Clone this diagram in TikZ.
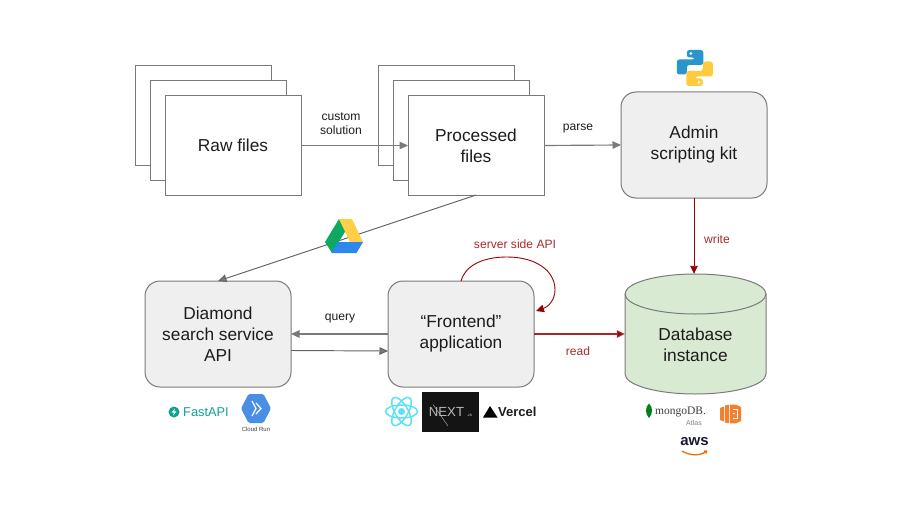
\documentclass[tikz,border=0pt]{standalone}
\usepackage{fontspec}
\setmainfont{Liberation Sans}
\newfontfamily\logoserif{Liberation Serif}
\usetikzlibrary{arrows.meta,calc}
\definecolor{ln}{HTML}{7A7A7A}
\definecolor{txt}{HTML}{1C1C1C}
\definecolor{dred}{HTML}{990000}
\definecolor{redtxt}{HTML}{AA2A2A}
\definecolor{gfill}{HTML}{EFEFEF}
\definecolor{dbfill}{HTML}{D9EAD3}
\definecolor{teal1}{HTML}{0FA392}
\definecolor{reactc}{HTML}{5CE1F7}
\definecolor{orangec}{HTML}{F2812F}
\tikzset{
  base/.style={draw=ln,line width=1pt,inner sep=0pt,outer sep=0pt,text=txt,align=center,font=\fontsize{17.3}{21}\selectfont},
  filebox/.style={base,fill=white,minimum width=136pt,minimum height=99pt},
  svcbox/.style={base,fill=gfill,rounded corners=15pt,minimum width=146pt,minimum height=106pt},
  conn/.style={draw=ln,line width=1.15pt,-{Triangle[length=8.5pt,width=7.5pt,fill=ln]}},
  thinconn/.style={draw=ln!80!black,line width=.95pt,-{Triangle[length=8.5pt,width=7.5pt,fill=ln]}},
  redconn/.style={draw=dred,line width=.9pt,-{Triangle[length=8pt,width=7.5pt,fill=dred]}},
  lab/.style={inner sep=0pt,text=txt,align=center,font=\fontsize{12.1}{14.5}\selectfont},
  redlab/.style={lab,text=redtxt},
}
\begin{document}
\begin{tikzpicture}[x=1pt,y=-1pt]
\useasboundingbox (0,0) rectangle (904,508);
% stacks
\node[filebox] (r3) at (203,115.5) {};
\node[filebox] (r2) at (218,130.5) {};
\node[filebox] (raw) at (233,145.5) {Raw files};
\node[filebox] (p3) at (446,115.5) {};
\node[filebox] (p2) at (461,130.5) {};
\node[filebox] (proc) at (476,145.5) {Processed\\files};
\node[svcbox] (admin) at (694,145) {Admin\\scripting kit};
\node[svcbox] (ds) at (218,334) {Diamond\\search service\\API};
\node[svcbox] (fe) at (461,334) {“Frontend”\\application};
% database
\node[inner sep=0pt,minimum width=141pt,minimum height=120pt] (db) at (695.5,334) {};
\draw[draw=ln,line width=1pt,fill=dbfill] (625,294) arc[start angle=180,end angle=0,x radius=70.5,y radius=-20] -- (766,374) arc[start angle=0,end angle=-180,x radius=70.5,y radius=-20] -- cycle;
\draw[draw=ln,line width=1pt] (625,294) arc[start angle=180,end angle=360,x radius=70.5,y radius=-20];
\node[inner sep=0pt,align=center,text=txt,font=\fontsize{17.3}{21}\selectfont] (dbtext) at (695.5,344.5) {Database\\instance};
% connectors
\draw[conn] (raw.east) -- (proc.west);
\draw[conn] (proc.east) -- (admin.west);
\draw[thinconn] (proc.south) -- (ds.north);
\draw[conn] (fe.west) -- (ds.east);
\draw[thinconn] ($(ds.east)+(0,16.5)$) -- ($(fe.west)+(0,17)$);
\draw[redconn] (admin.south) -- (admin.south |- db.north);
\draw[redconn,draw=dred!85!white,line width=1.15pt] (fe.east) -- (db.west);
\draw[redconn] (fe.north) .. controls ($(fe.north)+(5,-17)$) and ($(fe.north)+(24,-24)$) .. ($(fe.north)+(46,-24)$) .. controls ($(fe.north)+(74,-24)$) and ($(fe.north)+(94,-11)$) .. ($(fe.north)+(94,9)$) .. controls ($(fe.north)+(94,19)$) and ($(fe.north)+(87,26)$) .. ($(fe.east)+(2,-23)$);
% labels
\node[lab] (l1) at (341,123.5) {custom\\solution};
\node[lab] (l2) at (578,129) {parse};
\node[redlab] (l3) at (515,244.5) {server side API};
\node[redlab] (l4) at (717,239.5) {write};
\node[lab] (l5) at (340,318) {query};
\node[redlab] (l6) at (578,351) {read};
% python logo
\begin{scope}[shift={(694.8,68)}]
\foreach \c/\r in {2A94CC/0,FFCB3D/180}{
\begin{scope}[rotate=\r]
\definecolor{pyc}{HTML}{\c}
\fill[pyc,rounded corners=2.6pt] (-8,-18) -- (8.5,-18) -- (8.5,-3) -- (-8,-3) -- (-8,6.5) -- (-18,6.5) -- (-18,-8.5) -- (0,-8.5) -- (0,-10.5) -- (-8,-10.5) -- cycle;
\fill[white] (-4,-14.5) circle (1.5);
\end{scope}}
\end{scope}
% drive logo
\definecolor{drg}{HTML}{0DA960}
\definecolor{dry}{HTML}{FFCF48}
\definecolor{drb}{HTML}{2D88EE}
\fill[drg] (339,219) -- (345.5,231) -- (332,253) -- (325,242) -- cycle;
\fill[dry] (339,219) -- (352,219) -- (363,242) -- (350,242) -- cycle;
\fill[drb] (337.5,242) -- (363,242) -- (356.5,253) -- (331.5,253) -- cycle;
% FastAPI
\fill[teal1] (174,412) circle (5.5);
\fill[white] (174.8,408.6) -- (171.6,412.6) -- (173.8,412.6) -- (173.2,415.5) -- (176.4,411.4) -- (174.2,411.4) -- cycle;
\node[inner sep=0pt,anchor=west,text=teal1,font=\fontsize{12.8}{14}\selectfont] (fastapi) at (183,412) {FastAPI};
% Cloud Run
\definecolor{crb}{HTML}{4A8FE3}
\fill[crb,rounded corners=1.5pt] (241,408.5) -- (248.5,394) -- (263.5,394) -- (271,408.5) -- (263.5,423) -- (248.5,423) -- cycle;
\draw[white,line width=1.2pt] (252,401) -- (256,408.5) -- (252,416) (256,403) -- (261,408.5) -- (256,414);
\node[inner sep=0pt,text=txt!85!white,font=\fontsize{6}{7}\selectfont] (cr) at (256,429) {Cloud Run};
% React
\begin{scope}[shift={(401.5,411.5)},draw=reactc,line width=1.5pt]
\draw (0,0) ellipse[x radius=16,y radius=6.5];
\draw[rotate=60] (0,0) ellipse[x radius=16,y radius=6.5];
\draw[rotate=120] (0,0) ellipse[x radius=16,y radius=6.5];
\fill[reactc] (0,0) circle (3.5);
\end{scope}
% Next
\fill[black!92] (421.7,391.5) rectangle (479,431.5);
\draw[gray!70!white,line width=.5pt] (433,404.5) -- (448,426);
\node[inner sep=0pt,text=gray!55!white,font=\fontsize{13.2}{16}\selectfont] (next) at (446.5,411.5) {NEXT};
\node[inner sep=0pt,text=gray!55!white,font=\fontsize{3.2}{4}\bfseries\selectfont] (nextjs) at (469.5,415.5) {.JS};
% Vercel
\fill[black] (490,406) -- (497.5,417.5) -- (483,417.5) -- cycle;
\node[inner sep=0pt,anchor=west,text=txt,font=\fontsize{13}{14}\bfseries\selectfont] (vercel) at (498,411.5) {Vercel};
% Mongo
\fill[green!50!black!80!teal] (649,403.5) .. controls (653,407) and (653,414) .. (649,418) .. controls (645,414) and (645,407) .. (649,403.5) -- cycle;
\node[inner sep=0pt,anchor=west,text=txt!85!white,font=\logoserif\fontsize{11.5}{13}\selectfont] (mongo) at (655,412) {mongoDB.};
\node[inner sep=0pt,text=gray,font=\fontsize{7}{8}\selectfont] (atlas) at (694,423) {Atlas};
% Orange block
\fill[orangec] (720,408) -- (724,406.5) -- (724,421.5) -- (720,420) -- cycle;
\fill[orangec] (724.8,405.5) -- (729,404.7) -- (729,423.3) -- (724.8,422.5) -- cycle;
\fill[orangec] (729.8,404.7) -- (736,404.7) -- (741,407) -- (741,421) -- (736,423.3) -- (729.8,423.3) -- cycle;
\draw[white,line width=1pt] (733,409.5) -- (737,409.5) -- (737,418.5) -- (733,418.5) (733,413) -- (735,413);
% AWS
\node[inner sep=0pt,text=txt!90!blue,font=\fontsize{15}{16}\bfseries\selectfont] (aws) at (694.5,441.5) {aws};
\draw[orange!90!black,line width=1.3pt,-{Straight Barb[length=2pt,width=3pt]}] (682,451) .. controls (690,456) and (700,456) .. (707.5,450.5);
\end{tikzpicture}
\end{document}
